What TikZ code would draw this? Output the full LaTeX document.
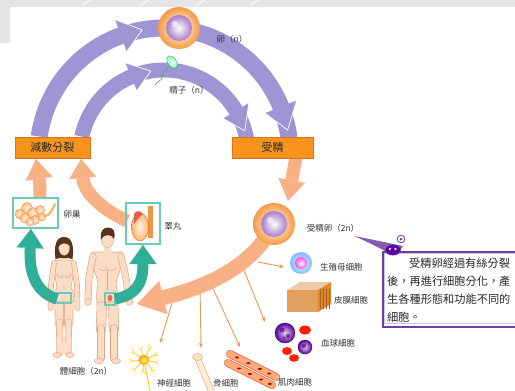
\documentclass[tikz,border=0pt]{standalone}
\usepackage{fontspec}
\setmainfont{Noto Sans CJK TC}
\usetikzlibrary{arrows.meta,calc}

\definecolor{arcpurple}{HTML}{9D95D4}
\definecolor{stagefill}{HTML}{F7941E}
\definecolor{stageedge}{HTML}{DD7418}
\definecolor{flowsalmon}{HTML}{F7B184}
\definecolor{thinorange}{HTML}{EE9A55}
\definecolor{gonadteal}{HTML}{2FAE98}
\definecolor{frameteal}{HTML}{6CCAB8}
\definecolor{skin}{HTML}{FBDCC4}
\definecolor{skinedge}{HTML}{E3A580}
\definecolor{calloutpurple}{HTML}{6E3FA0}
\definecolor{labeltext}{HTML}{333333}
\definecolor{bandgray}{HTML}{E5E5E5}
\definecolor{hairbrown}{HTML}{5A3220}
\definecolor{cellviolet}{HTML}{A77DCB}
\definecolor{ringorange}{HTML}{F59A45}

% a limb: outline stroke, then skin stroke on top
\newcommand\bodylimb[3]{%
  \draw[skinedge,line width=#1pt,line cap=round,line join=round] #3;
  \draw[skin,line width=#2pt,line cap=round,line join=round] #3;}

% a cell with an orange membrane ring and a violet nucleus-like sphere
\newcommand\ovum[1]{%
  \shade[inner color=white, outer color=ringorange] (#1) circle[radius=21];
  \shade[inner color=white, outer color=cellviolet] (#1) circle[radius=13];
  \fill[white,opacity=0.55] ($(#1)+(-4,-4)$) circle[radius=3.2];}

\tikzset{
  lbl/.style={font=\fontsize{8.5}{10}\selectfont, text=labeltext, inner sep=0pt},
  stagebox/.style={draw=stageedge, fill=stagefill, line width=1pt,
    minimum width=#1, minimum height=21pt, inner sep=0pt,
    font=\fontsize{11}{12}\selectfont, text=black!85},
  thinflow/.style={draw=thinorange, line width=0.9pt, -{Stealth[length=5pt,width=4pt]}},
  tealflow/.style={draw=gonadteal, line width=11pt,
    -{Triangle[width=27pt,length=19pt,line width=0.1pt]}},
  frame/.style={draw=frameteal, line width=1.1pt},
  notetext/.style={font=\fontsize{11.2}{12}\selectfont, text=black!85, anchor=west, inner sep=0pt},
}

\begin{document}
\begin{tikzpicture}[x=1pt,y=-1pt]
\useasboundingbox (0,0) rectangle (515,391);
\clip (0,0) rectangle (515,391);
\fill[white] (0,0) rectangle (515,391);

% grey page band
\fill[bandgray] (0,0) rectangle (515,7);
\fill[bandgray] (0,0) rectangle (10,43);
\foreach \xx in {82,140,196,250} {
  \draw[white,line width=0.8pt,opacity=0.8] (\xx,7) .. controls (\xx+3,3) .. (\xx+9,0);
}

% ---------- purple life-cycle arcs ----------
\coordinate (cyc) at (164,154);
\begin{scope}[shift={(cyc)}]
  % outer arc (egg)
  \fill[arcpurple] (188:117.5) arc[start angle=188,end angle=353,radius=117.5]
     -- (353:134.5) arc[start angle=353,end angle=188,radius=134.5] -- cycle;
  \fill[arcpurple] (250:143) -- (260:126) -- (250:109) -- cycle;
  \draw[white,line width=0.7pt,line join=round] (250:143) -- (260:126) -- (250:109);
  \fill[arcpurple] (338:143) -- (349:126) -- (338:109) -- cycle;
  \draw[white,line width=0.7pt,line join=round] (338:143) -- (349:126) -- (338:109);
  % inner arc (sperm)
  \fill[arcpurple] (192:76.5) arc[start angle=192,end angle=350,radius=76.5]
     -- (350:91.5) arc[start angle=350,end angle=192,radius=91.5] -- cycle;
  \fill[arcpurple] (247:99) -- (261:84) -- (247:69) -- cycle;
  \draw[white,line width=0.7pt,line join=round] (247:99) -- (261:84) -- (247:69);
  \fill[arcpurple] (329:99) -- (344:84) -- (329:69) -- cycle;
  \draw[white,line width=0.7pt,line join=round] (329:99) -- (344:84) -- (329:69);
\end{scope}

% ---------- named places ----------
\coordinate (egg) at (179,28);
\coordinate (sperm) at (172,62);
\coordinate (zyg) at (274,224);
\coordinate (ovarytop) at (40,199);
\coordinate (testisside) at (127,221);
\coordinate (meiosisL) at (36,159);
\coordinate (meiosisR) at (81,159);
\coordinate (fertbot) at (296,157);
\coordinate (zygtop) at (288,201);
\coordinate (bodies) at (137,304);
\coordinate (germ) at (301,263);
\coordinate (blood) at (285,333);
\coordinate (neuron) at (144,360);

% ---------- thin arrows to differentiated cells ----------
\draw[thinflow] (258,262) -- ($(germ)+(-17,4)$);
\draw[thinflow] (243,268) -- (265,322);
\draw[thinflow] (210,282) -- (240,347);
\draw[thinflow] (200,283) -- (201,348);
\draw[thinflow] (176,290) -- (160,343);

% ---------- salmon flow arrows ----------
\draw[flowsalmon,line width=13pt,-{Triangle[width=27pt,length=20pt,line width=0.1pt]}]
  (ovarytop) .. controls (40,185) .. (meiosisL);
\draw[flowsalmon,line width=13pt,-{Triangle[width=27pt,length=19pt,line width=0.1pt]}]
  (testisside) .. controls (100,208) and (84,192) .. (meiosisR);
\draw[flowsalmon,line width=13pt,-{Triangle[width=27pt,length=21pt,line width=0.1pt]}]
  (fertbot) -- (zygtop);
\draw[flowsalmon,line width=15pt,-{Triangle[width=34pt,length=27pt,line width=0.1pt]}]
  (zyg) .. controls (255,262) and (215,285) .. (bodies);

% ---------- stage boxes ----------
\node[stagebox=75pt] (meiosis) at (52.5,147.5) {減數分裂};
\node[stagebox=81pt] (fert) at (272.5,147.5) {受精};

% ---------- egg, sperm, zygote ----------
\ovum{egg}
\node[lbl] (egglbl) at (232,39) {卵（n）};

\draw[green!40!gray,line width=0.6pt] (168,67) .. controls (166,72) and (162,72) .. (162,77)
   .. controls (162,81) and (157,81) .. (155,85);
\shade[inner color=green!10, outer color=green!35!cyan!40, draw=green!50!gray, line width=0.5pt, rotate around={35:(sperm)}]
  (sperm) ellipse[x radius=4.2, y radius=6.8];
\node[lbl] (spermlbl) at (189,90) {精子（n）};

\ovum{zyg}
\node[lbl] (zyglbl) at (333,228) {受精卵（2n）};

% ---------- gonads ----------
\draw[frame] (13,198) rectangle (58,228);
\foreach \cx/\cy/\rr in {20/214/5,27/208/5.5,25/218/5,33/213/5.5,35/220/4.5,40/210/4.5,42/217/4,30/222/4} {
  \shade[inner color=orange!10, outer color=orange!50, draw=orange!60!red!70, line width=0.4pt] (\cx,\cy) circle[radius=\rr];
}
\draw[orange!60,line width=2.2pt,line cap=round] (44,216) .. controls (50,216) and (52,210) .. (55,204);
\node[lbl] (ovarylbl) at (72,214) {卵巢};

\draw[frame] (126,203) rectangle (160,244);
\fill[orange!55!brown!80] (148,206) rectangle (153,238);
\shade[inner color=orange!10, outer color=orange!55, draw=orange!70!red, line width=0.4pt] (140,227) ellipse[x radius=8.5, y radius=14];
\fill[red!60!brown!80] (134,216) .. controls (133,211) and (140,209) .. (143,214) .. controls (140,216) and (137,220) .. (134,224) -- cycle;
\node[lbl] (testislbl) at (173,226) {睪丸};

% ---------- woman ----------
\bodylimb{9.2}{8}{(59,296) -- (59.5,324)}
\bodylimb{7}{5.8}{(59.5,322) -- (60,352)}
\bodylimb{9.2}{8}{(69,296) -- (68.5,324)}
\bodylimb{7}{5.8}{(68.5,322) -- (68,352)}
\fill[skin,draw=skinedge,line width=0.5pt] (57,355) ellipse[x radius=4, y radius=2.5];
\fill[skin,draw=skinedge,line width=0.5pt] (70,355) ellipse[x radius=4, y radius=2.5];
\fill[skin,draw=skinedge,line width=0.6pt] (55,260) -- (73,260)
   .. controls (76,270) and (72,280) .. (71,287) .. controls (74,293) and (75,298) .. (73,302)
   -- (55,302) .. controls (53,298) and (54,293) .. (57,287)
   .. controls (56,280) and (52,270) .. (55,260) -- cycle;
\draw[skinedge,line width=0.5pt] (57,273) .. controls (58,279) and (62,279) .. (63,275);
\draw[skinedge,line width=0.5pt] (65,275) .. controls (66,279) and (70,279) .. (71,273);
\fill[skinedge] (64,288) circle[radius=0.6];
\bodylimb{5.6}{4.4}{(54,263) -- (51,285) -- (50.5,308)}
\bodylimb{5.6}{4.4}{(74,263) -- (77,285) -- (77.5,308)}
\fill[skin] (62,252) rectangle (66.5,262);
\fill[hairbrown] (55.5,259) .. controls (53.5,245) and (56.5,237) .. (64,237)
   .. controls (71.5,237) and (74.5,245) .. (72.5,259) -- (68,258) -- (60,258) -- cycle;
\fill[skin,draw=skinedge,line width=0.4pt] (64.2,248) ellipse[x radius=5.3, y radius=7.3];
\fill[hairbrown] (58.8,246) .. controls (59,240) and (63,239) .. (66,240) .. controls (68,242) and (69,244) .. (69.6,246)
   .. controls (66,242) and (62,243) .. (58.8,246) -- cycle;
\draw[frame] (56,293) rectangle (71,303);

% ---------- man ----------
\bodylimb{10.2}{9}{(102,298) -- (101,330)}
\bodylimb{7.6}{6.4}{(101,328) -- (101,358)}
\bodylimb{10.2}{9}{(113,298) -- (114,330)}
\bodylimb{7.6}{6.4}{(114,328) -- (114,358)}
\fill[skin,draw=skinedge,line width=0.5pt] (99,361) ellipse[x radius=4.5, y radius=2.8];
\fill[skin,draw=skinedge,line width=0.5pt] (116,361) ellipse[x radius=4.5, y radius=2.8];
\fill[skin,draw=skinedge,line width=0.6pt] (92,252) -- (122,252)
   .. controls (125,262) and (118,272) .. (116,283) .. controls (117,290) and (118,296) .. (117,302)
   -- (97,302) .. controls (96,296) and (97,290) .. (98,283)
   .. controls (96,272) and (89,262) .. (92,252) -- cycle;
\draw[skinedge,line width=0.5pt] (99,268) .. controls (103,272) and (105,271) .. (107,268) .. controls (109,271) and (112,272) .. (116,268);
\draw[skinedge,line width=0.4pt] (107,270) -- (107,290);
\fill[skinedge] (107,290) circle[radius=0.6];
\fill[red!55!brown!75] (110,298) ellipse[x radius=2.4, y radius=3.2];
\bodylimb{7}{5.8}{(93,256) -- (89,278) -- (88,300)}
\bodylimb{7}{5.8}{(121,256) -- (126,278) -- (129,300)}
\fill[skin,draw=skinedge,line width=0.5pt] (88,302) circle[radius=3.3];
\fill[skin,draw=skinedge,line width=0.5pt] (129.5,302) circle[radius=3.3];
\fill[skin] (104,244) rectangle (111,254);
\fill[skin,draw=skinedge,line width=0.4pt] (107.5,239) ellipse[x radius=6.3, y radius=8.5];
\fill[hairbrown] (101,240) .. controls (99.5,230) and (104,227.5) .. (108,227.5)
   .. controls (113,227.5) and (116,231) .. (114,239) .. controls (112,234) and (104,233) .. (101,240) -- cycle;
\draw[frame] (105,293) rectangle (115,305);
\node[lbl] (somalbl) at (86,371) {體細胞（2n）};

% ---------- teal arrows to the gonads ----------
\draw[tealflow] (57,299) .. controls (35,292) and (29,272) .. (31,229);
\draw[tealflow] (115,299) .. controls (135,295) and (143,285) .. (143,245);

% ---------- differentiated cells ----------
% germ-line cell
\shade[inner color=cyan!10, outer color=cyan!45!blue!50] (germ) circle[radius=11];
\shade[inner color=white, outer color=magenta!60!pink] (germ) circle[radius=6];
\node[lbl,anchor=west] (germlbl) at (320,267) {生殖母細胞};

% skin block
\fill[orange!35!brown!40] (287,290) -- (300,282) -- (331,282) -- (318,290) -- cycle;
\fill[orange!50!brown!75] (287,290) rectangle (318,312);
\fill[orange!55!brown!95] (318,290) -- (331,282) -- (331,304) -- (318,312) -- cycle;
\foreach \lx in {290,294,298,302,306,310,314} {
  \draw[brown!70,line width=0.4pt] (\lx,291) -- (\lx+0.5,311);
}
\foreach \lx in {320,323,326,329} {
  \draw[brown!80!black,line width=0.4pt] (\lx,289) -- (\lx,309);
}
\node[lbl,anchor=west] (skinlbl) at (334,300) {皮膜細胞};

% blood cells
\fill[red!75!orange] (305,330) ellipse[x radius=6, y radius=4.5];
\fill[red!75!orange] (287,351) ellipse[x radius=5, y radius=4];
\fill[red!75!orange] (294,358) ellipse[x radius=5, y radius=3.8];
\shade[inner color=violet!20, outer color=violet!65!blue, draw=violet!60!black, line width=0.4pt] (blood) circle[radius=10];
\fill[violet!60!black,opacity=0.6] (282,330) circle[radius=2.5] (288,336) circle[radius=2] (284,338) circle[radius=1.6];
\shade[inner color=violet!20, outer color=violet!65!blue, draw=violet!60!black, line width=0.4pt] (305,347) circle[radius=7];
\fill[violet!60!black,opacity=0.6] (304,346) circle[radius=2.2];
\node[lbl,anchor=west] (bloodlbl) at (321,343) {血球細胞};

% muscle fibres
\draw[red!45!brown!80,line width=8pt,line cap=round] (230,354) -- (276,377);
\draw[orange!45!pink!90,line width=6.4pt,line cap=round] (230,354) -- (276,377);
\draw[red!45!brown!80,line width=8pt,line cap=round] (228,363) -- (272,385);
\draw[orange!45!pink!90,line width=6.4pt,line cap=round] (228,363) -- (272,385);
\foreach \t in {0.15,0.4,0.65,0.85} {
  \fill[red!70!black] ($(230,354)!\t!(276,377)$) ellipse[x radius=2, y radius=1];
  \fill[red!70!black] ($(228,363)!\t+0.1!(272,385)$) ellipse[x radius=2, y radius=1];
}
\node[lbl,anchor=west] (musclelbl) at (278,382) {肌肉細胞};

% bone
\draw[brown!60,line width=6.4pt,line cap=round] (198,359) -- (213,395);
\draw[yellow!15!orange!15,line width=5pt,line cap=round] (198,359) -- (213,395);
\fill[yellow!25!orange!25,draw=brown!60,line width=0.5pt] (197.5,357) ellipse[x radius=5, y radius=3.5];
\node[lbl,anchor=west] (bonelbl) at (213,383) {骨細胞};

% nerve cell
\foreach \a/\l in {10/11,50/12,95/10,135/12,175/11,215/12,255/10,295/12,335/11} {
  \draw[yellow!70!orange,line width=0.7pt] (neuron) -- ++(\a:\l) coordinate (tipn) -- ++(\a+30:4);
  \draw[yellow!70!orange,line width=0.6pt] (tipn) -- ++(\a-30:4);
}
\draw[yellow!70!orange,line width=1pt] (neuron) -- (150,391);
\shade[inner color=yellow!60, outer color=orange!80!yellow] (neuron) ellipse[x radius=5.5, y radius=5];
\node[lbl,anchor=west] (neuronlbl) at (157,383) {神經細胞};

% ---------- callout note ----------
\fill[calloutpurple!85] (354,236) .. controls (370,239) and (388,243) .. (403,246)
   -- (396,257) .. controls (384,250) and (370,243) .. (354,236) -- cycle;
\node[draw=calloutpurple, line width=2pt, fill=white, minimum width=142pt, minimum height=75pt,
      anchor=north west, inner sep=0pt] (note) at (382,251) {};
\draw[calloutpurple!30,line width=0.6pt] (384.5,253.5) rectangle (530,323.5);
\fill[violet!70!blue,draw=calloutpurple,line width=0.5pt] (393,250) ellipse[x radius=7.5, y radius=5.2];
\fill[white] (390,249) circle[radius=1.4] (395.5,249) circle[radius=1.4];
\fill[calloutpurple] (390.3,249.3) circle[radius=0.6] (395.8,249.3) circle[radius=0.6];
\fill[white,draw=calloutpurple,line width=0.8pt] (401,239) circle[radius=3.8];
\fill[calloutpurple] (401,239) circle[radius=1.5];
\node[notetext] (note1) at (409,263) {受精卵經過有絲分裂};
\node[notetext] (note2) at (387,281) {後，再進行細胞分化，產};
\node[notetext] (note3) at (387,299) {生各種形態和功能不同的};
\node[notetext] (note4) at (387,317) {細胞。};
\end{tikzpicture}
\end{document}
